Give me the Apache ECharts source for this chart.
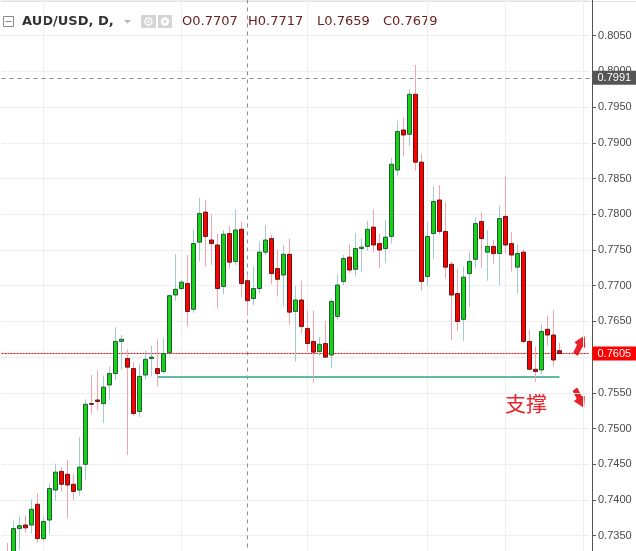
<!DOCTYPE html>
<html lang="zh">

<head>
    <meta charset="UTF-8">
    <meta name="viewport" content="width=device-width, initial-scale=1.0">
    <title>AUD/USD, D</title>
    <script src="https://cdn.jsdelivr.net/npm/echarts@6/dist/echarts.min.js"></script>
    <style>
        * {
            margin: 0;
            padding: 0;
        }

        #main {
            width: 636px;
            height: 551px;
            background-color: #ffffff;
        }
    </style>
</head>

<body>
    <div id="main"></div>
    <script>
        // 日线 OHLC
        const opens = [
            0.7326, 0.7322, 0.7360, 0.7365, 0.7365, 0.7394, 0.7346, 0.7372, 0.7414, 0.7440,
            0.7436, 0.7422, 0.7414, 0.7450, 0.7535, 0.7540, 0.7535, 0.7561, 0.7577, 0.7622,
            0.7598, 0.7584, 0.7524, 0.7575, 0.7598, 0.7584, 0.7580, 0.7606, 0.7687, 0.7696,
            0.7703, 0.7667, 0.7761, 0.7803, 0.7764, 0.7757, 0.7699, 0.7773, 0.7734, 0.7779,
            0.7707, 0.7682, 0.7696, 0.7747, 0.7766, 0.7724, 0.7715, 0.7744, 0.7664, 0.7680,
            0.7640, 0.7622, 0.7608, 0.7619, 0.7603, 0.7657, 0.7706, 0.7740, 0.7723, 0.7752,
            0.7755, 0.7782, 0.7759, 0.7752, 0.7769, 0.7862, 0.7918, 0.7912, 0.7968, 0.7873,
            0.7713, 0.7773, 0.7820, 0.7776, 0.7730, 0.7689, 0.7653, 0.7717, 0.7737, 0.7790,
            0.7747, 0.7755, 0.7745, 0.7797, 0.7759, 0.7726, 0.7747, 0.7622, 0.7583, 0.7582,
            0.7639, 0.7631, 0.7609
        ];
        const closes = [
            0.7312, 0.7360, 0.7364, 0.7361, 0.7387, 0.7346, 0.7370, 0.7416, 0.7439, 0.7422,
            0.7421, 0.7412, 0.7446, 0.7534, 0.7534, 0.7538, 0.7558, 0.7577, 0.7622, 0.7625,
            0.7586, 0.7521, 0.7573, 0.7597, 0.7600, 0.7577, 0.7605, 0.7686, 0.7695, 0.7705,
            0.7664, 0.7759, 0.7801, 0.7769, 0.7759, 0.7696, 0.7772, 0.7733, 0.7778, 0.7703,
            0.7679, 0.7696, 0.7747, 0.7764, 0.7717, 0.7709, 0.7744, 0.7663, 0.7680, 0.7643,
            0.7619, 0.7607, 0.7618, 0.7600, 0.7678, 0.7701, 0.7738, 0.7722, 0.7752, 0.7754,
            0.7779, 0.7757, 0.7750, 0.7768, 0.7870, 0.7916, 0.7911, 0.7968, 0.7873, 0.7706,
            0.7769, 0.7818, 0.7776, 0.7726, 0.7687, 0.7650, 0.7712, 0.7734, 0.7787, 0.7766,
            0.7755, 0.7745, 0.7794, 0.7757, 0.7743, 0.7745, 0.7622, 0.7583, 0.7580, 0.7636,
            0.7631, 0.7596, 0.7605
        ];
        const lows = [
            0.7300, 0.7315, 0.7330, 0.7354, 0.7353, 0.7340, 0.7342, 0.7353, 0.7399, 0.7412,
            0.7374, 0.7400, 0.7406, 0.7428, 0.7520, 0.7526, 0.7508, 0.7540, 0.7568, 0.7583,
            0.7463, 0.7518, 0.7516, 0.7568, 0.7573, 0.7559, 0.7577, 0.7603, 0.7679, 0.7694,
            0.7643, 0.7662, 0.7734, 0.7727, 0.7729, 0.7668, 0.7688, 0.7724, 0.7729, 0.7684,
            0.7659, 0.7673, 0.7689, 0.7743, 0.7702, 0.7685, 0.7671, 0.7645, 0.7594, 0.7633,
            0.7608, 0.7564, 0.7602, 0.7600, 0.7584, 0.7652, 0.7701, 0.7718, 0.7713, 0.7720,
            0.7749, 0.7747, 0.7725, 0.7732, 0.7759, 0.7854, 0.7881, 0.7896, 0.7861, 0.7693,
            0.7700, 0.7738, 0.7772, 0.7710, 0.7624, 0.7637, 0.7623, 0.7670, 0.7724, 0.7725,
            0.7707, 0.7731, 0.7701, 0.7745, 0.7720, 0.7689, 0.7619, 0.7582, 0.7565, 0.7576,
            0.7616, 0.7587, 0.7604
        ];
        const highs = [
            0.7340, 0.7371, 0.7377, 0.7378, 0.7401, 0.7410, 0.7377, 0.7423, 0.7451, 0.7446,
            0.7456, 0.7437, 0.7488, 0.7541, 0.7575, 0.7581, 0.7574, 0.7587, 0.7642, 0.7631,
            0.7611, 0.7593, 0.7590, 0.7609, 0.7616, 0.7625, 0.7627, 0.7688, 0.7744, 0.7708,
            0.7743, 0.7779, 0.7823, 0.7820, 0.7800, 0.7773, 0.7778, 0.7784, 0.7807, 0.7790,
            0.7717, 0.7727, 0.7762, 0.7785, 0.7772, 0.7750, 0.7757, 0.7766, 0.7700, 0.7707,
            0.7665, 0.7665, 0.7628, 0.7651, 0.7682, 0.7716, 0.7743, 0.7758, 0.7774, 0.7766,
            0.7791, 0.7807, 0.7773, 0.7792, 0.7879, 0.7931, 0.7936, 0.7975, 0.8009, 0.7885,
            0.7789, 0.7839, 0.7841, 0.7817, 0.7733, 0.7724, 0.7727, 0.7747, 0.7796, 0.7803,
            0.7778, 0.7764, 0.7812, 0.7853, 0.7775, 0.7758, 0.7751, 0.7638, 0.7615, 0.7646,
            0.7658, 0.7666, 0.7620
        ];

        const symbolTitle = 'AUD/USD, D,';
        const cursorIndex = 40;      // 十字光标所在K线
        const cursorPrice = 0.7991;  // 十字光标价格
        const supportLevel = 0.7573; // 支撑线
        const supportFrom = 25;
        const supportTo = 92;
        const monthStarts = [6, 29, 50, 70, 83, 96];
        const padBefore = 1;
        const padAfter = 5;

        const total = padBefore + opens.length + padAfter;
        const days = Array.from({ length: total }, (_, j) => j);
        const lastClose = closes[closes.length - 1];
        const empty = ['-', '-', '-', '-'];

        const wickData = [empty].concat(opens.map((o, i) => [o, closes[i], lows[i], highs[i]]));
        const bodyData = [empty].concat(opens.map((o, i) => {
            const c = closes[i];
            return [o, c, Math.min(o, c), Math.max(o, c)];
        }));

        const fmt = v => Number(v).toFixed(4);

        var chartDom = document.getElementById('main');
        var myChart = echarts.init(chartDom);
        var option;

        const markLabel = (bg) => ({
            show: true,
            position: 'end',
            distance: 3,
            formatter: p => fmt(p.value),
            color: '#ffffff',
            backgroundColor: bg,
            fontSize: 11,
            fontFamily: 'Liberation Sans',
            lineHeight: 12,
            padding: [1, 5, 1, 5]
        });

        const red = '#e8222a';

        option = {
            backgroundColor: '#ffffff',
            animation: false,
            grid: {
                left: 1.5,
                top: 0,
                width: 588,
                height: 571.43,
                outerBoundsMode: 'none'
            },
            xAxis: {
                type: 'category',
                data: days,
                boundaryGap: false,
                axisLine: { show: false },
                axisTick: { show: false },
                axisLabel: { show: false },
                splitLine: {
                    show: true,
                    interval: (idx) => monthStarts.includes(idx - padBefore),
                    lineStyle: { color: '#eeeeee', width: 1 }
                }
            },
            yAxis: {
                type: 'value',
                position: 'right',
                offset: 2.5,
                min: 0.7300,
                max: 0.8100,
                interval: 0.005,
                axisLine: { show: true, lineStyle: { color: '#555555' } },
                axisTick: { show: true, length: 4, lineStyle: { color: '#555555' } },
                axisLabel: {
                    color: '#4a4a4a',
                    fontSize: 11,
                    fontFamily: 'Liberation Sans',
                    margin: 6,
                    showMaxLabel: false,
                    formatter: fmt
                },
                splitLine: { lineStyle: { color: '#eeeeee', width: 1 } }
            },
            series: [
                {
                    // 影线
                    type: 'candlestick',
                    data: wickData,
                    barWidth: 0,
                    silent: true,
                    itemStyle: {
                        color: 'transparent',
                        color0: 'transparent',
                        borderColor: '#9fcbd1',
                        borderColor0: '#f5a3ad',
                        borderWidth: 1
                    }
                },
                {
                    // 实体
                    type: 'candlestick',
                    data: bodyData,
                    barWidth: 4,
                    silent: true,
                    itemStyle: {
                        color: '#15d415',
                        color0: '#ff0000',
                        borderColor: '#235a34',
                        borderColor0: '#5e1616',
                        borderWidth: 1
                    },
                    markLine: {
                        silent: true,
                        symbol: 'none',
                        precision: 4,
                        z: 1,
                        animation: false,
                        data: [
                            {
                                yAxis: cursorPrice,
                                lineStyle: { color: '#8c8c8c', type: [4, 4], width: 1 },
                                label: markLabel('#555555')
                            },
                            {
                                xAxis: cursorIndex + padBefore,
                                lineStyle: { color: '#8c8c8c', type: [4, 4], width: 1 },
                                label: { show: false }
                            },
                            {
                                yAxis: lastClose,
                                lineStyle: { color: '#ff0000', type: [2, 1], width: 1 },
                                label: markLabel('#ff0000')
                            },
                            [
                                {
                                    coord: [supportFrom + padBefore, supportLevel],
                                    lineStyle: { color: '#5fbaac', type: 'solid', width: 2 },
                                    label: { show: false }
                                },
                                { coord: [supportTo + padBefore, supportLevel] }
                            ]
                        ]
                    }
                }
            ],
            graphic: [
                { type: 'line', silent: true, shape: { x1: 0, y1: 1.5, x2: 636, y2: 1.5 }, style: { stroke: '#e3e3e3', lineWidth: 1 } },
                // 标题栏
                { type: 'rect', silent: true, shape: { x: 3.5, y: 16.5, width: 10, height: 10 }, style: { fill: 'none', stroke: '#8a8a8a', lineWidth: 1 } },
                { type: 'line', silent: true, shape: { x1: 5.5, y1: 21.5, x2: 11.5, y2: 21.5 }, style: { stroke: '#8a8a8a', lineWidth: 1 } },
                {
                    type: 'text', silent: true, x: 22, y: 21.5,
                    style: { text: symbolTitle, fill: '#333333', font: 'bold 13px "DejaVu Sans"', verticalAlign: 'middle' }
                },
                { type: 'polygon', silent: true, shape: { points: [[124, 20], [131, 20], [127.5, 23.5]] }, style: { fill: '#b8b8b8' } },
                { type: 'rect', silent: true, shape: { x: 141, y: 15, width: 15, height: 13, r: 1 }, style: { fill: '#d4d4d4' } },
                { type: 'circle', silent: true, shape: { cx: 148.5, cy: 21.5, r: 3.5 }, style: { fill: 'none', stroke: '#ffffff', lineWidth: 1.5 } },
                { type: 'circle', silent: true, shape: { cx: 148.5, cy: 21.5, r: 1.3 }, style: { fill: '#ffffff' } },
                { type: 'rect', silent: true, shape: { x: 158, y: 15, width: 14, height: 13, r: 1 }, style: { fill: '#d4d4d4' } },
                { type: 'circle', silent: true, shape: { cx: 165, cy: 21.5, r: 4.2 }, style: { fill: '#ffffff' } },
                { type: 'circle', silent: true, shape: { cx: 165, cy: 21.5, r: 1.6 }, style: { fill: '#d4d4d4' } },
                {
                    type: 'text', silent: true, x: 182, y: 21.5,
                    style: { text: 'O' + fmt(opens[cursorIndex]), fill: '#6b2020', font: '13px "DejaVu Sans"', verticalAlign: 'middle' }
                },
                {
                    type: 'text', silent: true, x: 248, y: 21.5,
                    style: { text: 'H' + fmt(highs[cursorIndex]), fill: '#6b2020', font: '13px "DejaVu Sans"', verticalAlign: 'middle' }
                },
                {
                    type: 'text', silent: true, x: 317, y: 21.5,
                    style: { text: 'L' + fmt(lows[cursorIndex]), fill: '#6b2020', font: '13px "DejaVu Sans"', verticalAlign: 'middle' }
                },
                {
                    type: 'text', silent: true, x: 383, y: 21.5,
                    style: { text: 'C' + fmt(closes[cursorIndex]), fill: '#6b2020', font: '13px "DejaVu Sans"', verticalAlign: 'middle' }
                },
                // 手绘标注
                {
                    type: 'polygon', silent: true,
                    shape: { points: [[574, 352.5], [578, 344.5], [575.5, 342.5], [584, 337], [584.5, 347], [582, 346.2], [577.5, 355]] },
                    style: { fill: red, stroke: red, lineWidth: 1.5, lineJoin: 'round' }
                },
                {
                    type: 'polygon', silent: true,
                    shape: { points: [[573.5, 391], [577.5, 399], [575, 401], [583.5, 406.5], [584, 396.5], [581.5, 397.3], [577, 388.5]] },
                    style: { fill: red, stroke: red, lineWidth: 1.5, lineJoin: 'round' }
                },
                {
                    type: 'text', silent: true, x: 526, y: 403,
                    style: { text: '支撑', fill: red, font: '21px "Noto Sans CJK SC"', align: 'center', verticalAlign: 'middle' }
                }
            ]
        };

        option && myChart.setOption(option);
    </script>
</body>

</html>
